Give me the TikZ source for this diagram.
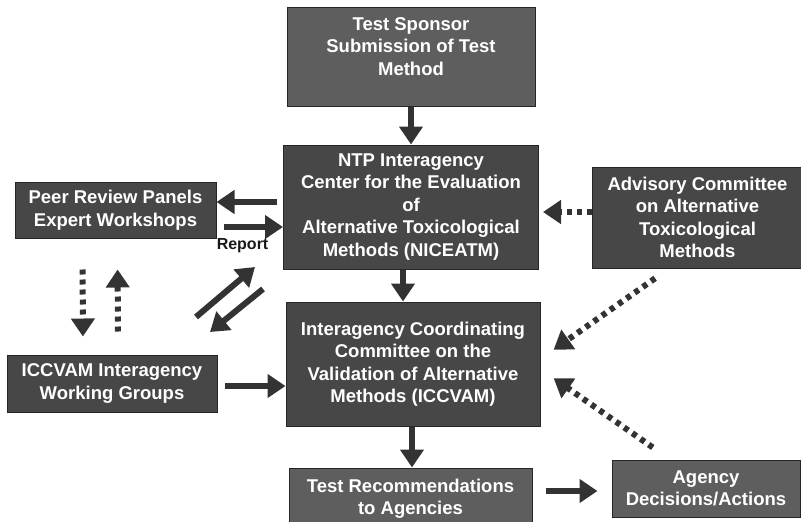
\documentclass[tikz,border=0pt]{standalone}
\usepackage{fontspec}
\setmainfont{Liberation Sans}
\usepackage{tikz}
\usetikzlibrary{arrows.meta,calc,positioning}
\definecolor{boxdark}{HTML}{474747}
\definecolor{boxlite}{HTML}{5E5E5E}
\definecolor{arrgray}{HTML}{333333}
\tikzset{
  box/.style={draw=black!85, line width=1pt, fill=boxdark, text=white, align=center,
    font=\bfseries\fontsize{18.5}{22.5}\selectfont, inner sep=2pt},
  boxlt/.style={box, fill=boxlite},
  arr/.style={draw=arrgray, line width=6pt, -{Triangle[width=23pt,length=18pt]}},
  dotarr/.style={arr, dash pattern=on 5pt off 5pt},
}

\begin{document}
\begin{tikzpicture}[x=1pt,y=-1pt]
\useasboundingbox (0,0) rectangle (801,522);

% boxes
\node[boxlt, minimum width=248pt, minimum height=99pt] (sponsor) at (411,56.5)
  {Test Sponsor\\Submission of Test\\Method\\[-2pt]\mbox{}};
\node[box, minimum width=255pt, minimum height=124pt] (ntp) at (411,207)
  {NTP Interagency\\Center for the Evaluation\\of\\Alternative Toxicological\\Methods (NICEATM)};
\node[box, minimum width=211pt, minimum height=101pt] (advisory) at (697.5,217.5)
  {Advisory Committee\\on Alternative\\Toxicological\\Methods};
\node[box, minimum width=201pt, minimum height=56pt] (peer) at (115.5,210)
  {Peer Review Panels\\Expert Workshops};
\node[box, minimum width=210pt, minimum height=57pt] (wg) at (112,383.5)
  {ICCVAM Interagency\\Working Groups};
\node[box, minimum width=254pt, minimum height=124pt] (iccvam) at (413,364)
  {Interagency Coordinating\\Committee on the\\Validation of Alternative\\Methods (ICCVAM)};
\node[boxlt, minimum width=243pt, minimum height=62pt] (testrec) at (410.5,499)
  {Test Recommendations\\to Agencies};
\node[boxlt, minimum width=188pt, minimum height=57pt] (agency) at (706,488.5)
  {Agency\\Decisions/Actions};

% solid arrows
\draw[arr] (sponsor) -- (ntp);
\draw[arr] ($(ntp.west |- peer.east)+(-6pt,8pt)$) -- ([yshift=8pt]peer.east);
\draw[arr] ([xshift=7pt,yshift=-17pt]peer.east) -- ($(ntp.west |- peer.east)+(0,-17pt)$)
  node[pos=0.32, below=5pt, text=black!90, font=\bfseries\fontsize{16}{18}\selectfont] (report) {Report};
\draw[arr] ([xshift=-8pt]ntp.south) -- ([xshift=-8pt]ntp.south |- iccvam.north);
\draw[arr] ($(wg.east)+(7pt,-2.5pt)$) -- ($(iccvam.west |- wg.east)+(0,-2.5pt)$);
\draw[arr] ([xshift=-1pt]iccvam.south) -- ([xshift=-1pt]iccvam.south |- testrec.north);
\draw[arr] ($(testrec.east |- agency.west)+(13pt,-2.5pt)$) -- ($(agency.west)+(-14pt,-2.5pt)$);

% arrows between working groups and NICEATM
\coordinate (wgout) at (196,317);
\coordinate (ntpin) at (255,267);
\coordinate (ntpout) at (263,289);
\coordinate (wgin) at (210,332);
\draw[arr] (wgout) -- (ntpin);
\draw[arr] (ntpout) -- (wgin);

% dotted arrows
\draw[dotarr] ([yshift=5.5pt]advisory.west) -- ($(ntp.east |- advisory.west)+(4pt,5.5pt)$);
\draw[dotarr, shorten <=31pt, shorten >=18pt] ([xshift=-33pt]peer.south) -- ([xshift=-29pt]wg.north);
\draw[dotarr, shorten <=23pt, shorten >=31pt] ([xshift=6pt]wg.north) -- ([xshift=2pt]peer.south);
\draw[dotarr, shorten <=17pt, shorten >=16pt] ([xshift=-28.5pt]advisory.south) -- ([yshift=5pt]iccvam.east);
\draw[dotarr, shorten <=21pt, shorten >=16pt] ([xshift=-36pt]agency.north) -- ([yshift=-5pt]iccvam.east);
\end{tikzpicture}
\end{document}
